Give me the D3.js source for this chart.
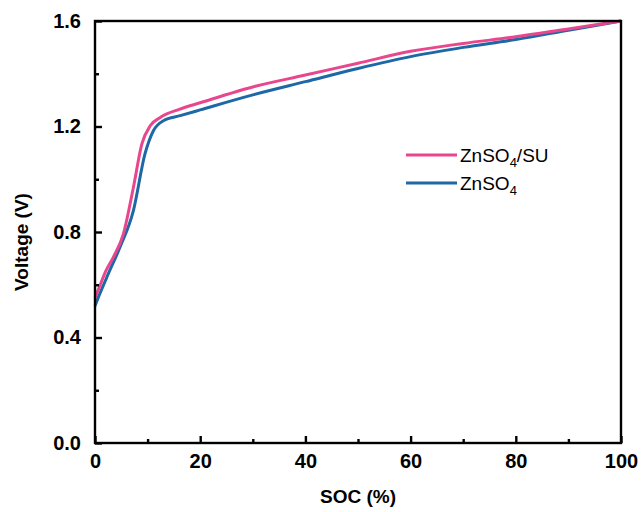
<!DOCTYPE html>
<html>
<head>
<meta charset="utf-8">
<script src="https://cdn.jsdelivr.net/npm/d3@7"></script>
<style>
body { margin: 0; background: #fff; }
text { font-family: Arial, "Liberation Sans", sans-serif; }
</style>
</head>
<body>
<div id="chart"></div>
<script>
// data
var socSU = [0, 1, 2, 3.5, 5.4, 7.3, 8.9, 10.5, 12.4, 16, 20, 30, 40, 50, 60, 70, 80, 90, 100]
var voltSU = [0.55, 0.60, 0.65, 0.705, 0.793, 0.969, 1.133, 1.203, 1.234, 1.265, 1.29, 1.35, 1.395, 1.44, 1.485, 1.515, 1.54, 1.57, 1.60]
var socZn = [0, 1, 2.5, 4.75, 7.3, 9.5, 11.1, 13, 16.2, 20, 30, 40, 50, 60, 70, 80, 90, 100]
var voltZn = [0.52, 0.57, 0.64, 0.742, 0.881, 1.096, 1.184, 1.222, 1.241, 1.263, 1.32, 1.37, 1.42, 1.465, 1.50, 1.53, 1.565, 1.60]
var seriesNames = ["ZnSO4/SU", "ZnSO4"]
var seriesColors = ["#e8478e", "#1f68a6"]
var xTicks = [0, 20, 40, 60, 80, 100]
var yTicks = [0.0, 0.4, 0.8, 1.2, 1.6]

var margin = { top: 21, bottom: 69, left: 95, right: 21 }
var width = 642 - margin.left - margin.right
var height = 512 - margin.top - margin.bottom

var svg = d3.select("#chart").append("svg").attr("width", 642).attr("height", 512)
var g = svg.append("g").attr("transform", "translate(" + margin.left + "," + margin.top + ")")

var x = d3.scaleLinear().domain([0, 100]).range([0, width])
var y = d3.scaleLinear().domain([0, 1.6]).range([height, 0])

// minor ticks (inward)
var xAxisMinor = d3.axisBottom(x).tickValues(d3.range(10, 100, 20)).tickSize(-4).tickFormat("")
var yAxisMinor = d3.axisLeft(y).tickValues([0.2, 0.6, 1.0, 1.4]).tickSize(-4).tickFormat("")
var xAxis = d3.axisBottom(x).tickValues(xTicks).tickSize(-7).tickPadding(11).tickFormat(d3.format("d"))
var yAxis = d3.axisLeft(y).tickValues(yTicks).tickSize(-7).tickPadding(14).tickFormat(d3.format(".1f"))

var lineGenerator = d3.line().x(function(d) {
    return x(d[0])
}).y(function(d) {
    return y(d[1])
}).curve(d3.curveMonotoneX)

var allData = [d3.zip(socSU, voltSU), d3.zip(socZn, voltZn)]

// blue underneath, pink on top
g.append("path").datum(allData[1]).attr("d", lineGenerator).attr("fill", "none").attr("stroke", seriesColors[1]).attr("stroke-width", 3)
g.append("path").datum(allData[0]).attr("d", lineGenerator).attr("fill", "none").attr("stroke", seriesColors[0]).attr("stroke-width", 3)

// frame
g.append("rect").attr("x", 0).attr("y", 0).attr("width", width).attr("height", height).attr("fill", "none").attr("stroke", "#000").attr("stroke-width", 2.4)

function styleAxis(sel) {
    sel.select(".domain").remove()
    sel.selectAll("line").attr("stroke", "#000").attr("stroke-width", 2.4)
    sel.selectAll("text").attr("fill", "#000").style("font-size", "20px").style("font-weight", "bold")
}

g.append("g").attr("transform", "translate(0," + height + ")").call(xAxisMinor).call(styleAxis)
g.append("g").call(yAxisMinor).call(styleAxis)
g.append("g").attr("transform", "translate(0," + height + ")").call(xAxis).call(styleAxis)
g.append("g").call(yAxis).call(styleAxis)

// axis titles
g.append("text").attr("x", width / 2).attr("y", height + 60).attr("text-anchor", "middle")
    .style("font-size", "19px").style("font-weight", "bold").text("SOC (%)")
g.append("text").attr("transform", "translate(-67," + (height / 2 + 10) + ") rotate(-90)").attr("text-anchor", "middle")
    .style("font-size", "19px").style("font-weight", "bold").text("Voltage (V)")

// legend
var legend = g.selectAll(".legend").data(seriesNames).enter().append("g")
    .attr("class", "legend")
    .attr("transform", function(d, i) {
        return "translate(311," + (134 + i * 28) + ")"
    })
legend.append("line").attr("x1", 0).attr("x2", 51).attr("y1", 0).attr("y2", 0)
    .attr("stroke-width", 3)
    .attr("stroke", function(d, i) {
        return seriesColors[i]
    })
var labels = legend.append("text").attr("x", 54).attr("y", 7).style("font-size", "19px").attr("fill", "#000")
labels.append("tspan").text("ZnSO")
labels.append("tspan").attr("dy", 5).style("font-size", "13px").text("4")
labels.filter(function(d, i) { return i == 0 }).append("tspan").attr("dy", -5).text("/SU")
</script>
</body>
</html>
